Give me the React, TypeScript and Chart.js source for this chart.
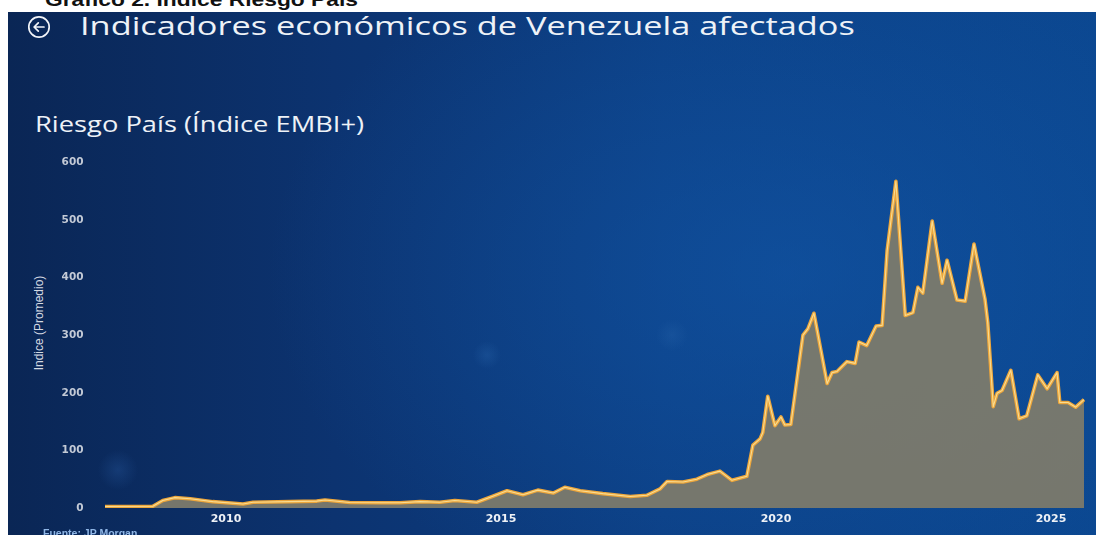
import React, { useEffect, useRef } from "react";
import { Chart, registerables } from "chart.js";

Chart.register(...registerables);

// ---- Data ----
const fechas: number[] = [
  2007.8, 2008.67, 2008.85, 2009.07, 2009.35, 2009.76, 2010.31, 2010.49, 2011.16, 2011.65,
  2011.8, 2012.25, 2012.8, 2013.16, 2013.53, 2013.89, 2014.16, 2014.56, 2014.84, 2015.11,
  2015.4, 2015.67, 2015.95, 2016.16, 2016.44, 2016.85, 2017.35, 2017.65, 2017.89, 2018.02,
  2018.31, 2018.56, 2018.75, 2018.98, 2019.2, 2019.47, 2019.58, 2019.71, 2019.76, 2019.85,
  2019.98, 2020.09, 2020.16, 2020.27, 2020.49, 2020.58, 2020.69, 2020.93, 2021.02, 2021.11,
  2021.29, 2021.44, 2021.51, 2021.65, 2021.82, 2021.93, 2022.02, 2022.18, 2022.35, 2022.49,
  2022.58, 2022.67, 2022.84, 2023.02, 2023.11, 2023.29, 2023.44, 2023.6, 2023.8, 2023.85,
  2023.95, 2024.02, 2024.11, 2024.27, 2024.42, 2024.56, 2024.76, 2024.93, 2025.11, 2025.16,
  2025.31, 2025.45, 2025.6,
];

const riesgoPais: number[] = [
  2.5, 3, 13, 18, 16, 11, 7, 10, 11, 12,
  14, 9.5, 9, 9, 11, 10, 13, 10, 20, 30,
  23, 31, 26, 36, 30, 25, 20, 22, 33, 46,
  45, 50, 58, 64, 48, 55, 109, 120, 131, 194,
  143, 158, 144, 145, 300, 311, 338, 216, 235, 237,
  254, 251, 288, 282, 316, 317, 446, 567, 334, 339,
  383, 373, 498, 390, 430, 361, 359, 458, 362, 322,
  176, 199, 204, 239, 155, 160, 231, 207, 235, 183,
  183, 175, 188,
];

const xTickYears: number[] = [2010, 2015, 2020, 2025];
const yTickStep = 100;
const yMax = 600;

const titulo = "Indicadores económicos de Venezuela afectados";
const subtitulo = "Riesgo País (Índice EMBI+)";
const ejeY = "Indice (Promedio)";
const fuente = "Fuente: JP Morgan";
const cabecera = "Gráfico 2. Índice Riesgo País";

export default function App() {
  const canvasRef = useRef<HTMLCanvasElement>(null);

  useEffect(() => {
    document.body.style.margin = "0";
    const pts = fechas.map((x, i) => ({ x, y: riesgoPais[i] }));
    const chart = new Chart(canvasRef.current as HTMLCanvasElement, {
      type: "line",
      data: {
        datasets: [
          {
            data: pts,
            borderColor: "#f8dc92",
            borderWidth: 1.1,
            fill: false,
            pointRadius: 0,
            tension: 0,
            borderJoinStyle: "round",
            order: 0,
          },
          {
            data: pts,
            borderColor: "#eca63c",
            borderWidth: 3.6,
            fill: "origin",
            backgroundColor: "rgba(124,122,108,0.95)",
            pointRadius: 0,
            tension: 0,
            borderJoinStyle: "round",
            order: 1,
          },
        ],
      },
      options: {
        animation: false,
        responsive: false,
        maintainAspectRatio: false,
        layout: { padding: { left: 0, right: 6.5, top: 12, bottom: 0 } },
        plugins: { legend: { display: false }, tooltip: { enabled: false } },
        scales: {
          x: {
            type: "linear",
            min: 2007.7,
            max: 2025.7,
            grid: { display: false, drawTicks: false },
            border: { display: false },
            afterBuildTicks: (s: any) => {
              s.ticks = xTickYears.map((v) => ({ value: v }));
            },
            afterFit: (s: any) => {
              s.height = 27;
            },
            ticks: {
              color: "#eef1f6",
              font: { family: "DejaVu Sans", size: 11, weight: "bold" },
              padding: 4.5,
              maxRotation: 0,
              autoSkip: false,
              callback: (v: any) => String(v),
            },
          },
          y: {
            min: 0,
            max: yMax,
            grid: { display: false, drawTicks: false },
            border: { display: false },
            afterFit: (s: any) => {
              s.width = 59.5;
            },
            ticks: {
              stepSize: yTickStep,
              color: "#c3cad6",
              font: { family: "DejaVu Sans", size: 10.5, weight: "bold" },
              padding: 16,
              callback: (v: any) => String(v),
            },
          },
        },
      },
    });
    return () => chart.destroy();
  }, []);

  const panelBg =
    "radial-gradient(circle at 110px 458px, rgba(40,90,160,0.35) 0px, rgba(40,90,160,0) 20px)," +
    "radial-gradient(circle at 479px 343px, rgba(40,100,170,0.35) 0px, rgba(40,100,170,0) 14px)," +
    "radial-gradient(circle at 664px 323px, rgba(40,100,170,0.3) 0px, rgba(40,100,170,0) 16px)," +
    "radial-gradient(ellipse 520px 360px at 780px 260px, rgba(18,88,170,0.55) 0%, rgba(18,88,170,0) 100%)," +
    "linear-gradient(90deg, #0a2655 0%, #0c3370 30%, #0c3f84 60%, #0b4790 100%)";

  return (
    <div
      style={{
        position: "relative",
        width: 1096,
        height: 535,
        background: "#ffffff",
        overflow: "hidden",
      }}
    >
      <div
        style={{
          position: "absolute",
          left: 45,
          top: -10,
          fontFamily: "'Liberation Sans', Arial, sans-serif",
          fontWeight: "bold",
          fontSize: 19,
          lineHeight: "19px",
          color: "#111",
          whiteSpace: "nowrap",
          transform: "scaleX(1.2)",
          transformOrigin: "left top",
        }}
      >
        {cabecera}
      </div>
      <div
        style={{
          position: "absolute",
          left: 8,
          top: 12,
          width: 1088,
          height: 523,
          background: panelBg,
          overflow: "hidden",
        }}
      >
        <svg
          width={24}
          height={24}
          viewBox="0 0 24 24"
          style={{ position: "absolute", left: 19, top: 3 }}
        >
          <circle cx={12} cy={12} r={10.2} fill="none" stroke="#f2f4f8" strokeWidth={1.7} />
          <path d="M17 12 H7.2 M11.3 7.8 L7.1 12 L11.3 16.2" fill="none" stroke="#f2f4f8" strokeWidth={1.7} strokeLinecap="round" strokeLinejoin="round" />
        </svg>
        <div
          style={{
            position: "absolute",
            left: 72,
            top: 0,
            fontFamily: "'Open Sans', sans-serif",
            fontSize: 26,
            lineHeight: "26px",
            color: "#eef2f7",
            whiteSpace: "nowrap",
            transform: "scaleX(1.32)",
            transformOrigin: "left top",
          }}
        >
          {titulo}
        </div>
        <div
          style={{
            position: "absolute",
            left: 27,
            top: 102,
            fontFamily: "'Open Sans', sans-serif",
            fontSize: 21,
            lineHeight: "21px",
            color: "#eef2f7",
            whiteSpace: "nowrap",
            transform: "scaleX(1.3)",
            transformOrigin: "left top",
          }}
        >
          {subtitulo}
        </div>
        <div
          style={{
            position: "absolute",
            left: 31,
            top: 311,
            fontFamily: "'Liberation Sans Narrow', 'Liberation Sans', sans-serif",
            fontSize: 12,
            lineHeight: "12px",
            color: "#d5dae3",
            whiteSpace: "nowrap",
            transform: "translate(-50%, -50%) rotate(-90deg)",
          }}
        >
          {ejeY}
        </div>
        <canvas
          ref={canvasRef}
          width={1056}
          height={395}
          style={{ position: "absolute", left: 32, top: 128, width: 1056, height: 395 }}
        />
        <div
          style={{
            position: "absolute",
            left: 35,
            top: 515.5,
            fontFamily: "'Liberation Sans', sans-serif",
            fontWeight: "bold",
            fontSize: 10.5,
            lineHeight: "10.5px",
            color: "#8fb6e6",
            whiteSpace: "nowrap",
          }}
        >
          {fuente}
        </div>
      </div>
    </div>
  );
}
